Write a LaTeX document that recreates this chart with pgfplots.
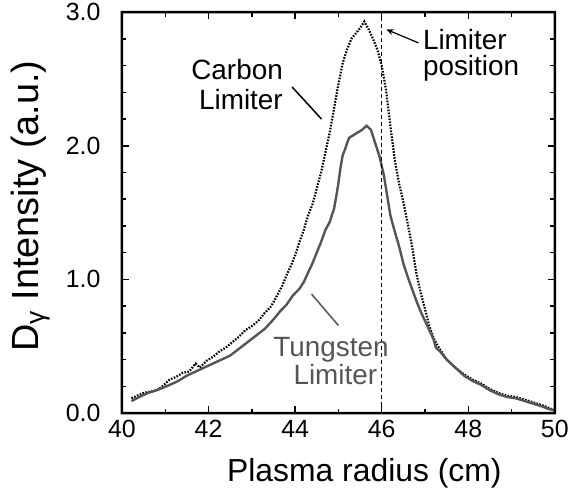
\documentclass[border=0pt]{standalone}
\usepackage{fontspec}
\setmainfont{Liberation Sans}
\usepackage{pgfplots}
\pgfplotsset{compat=1.18}
\usetikzlibrary{arrows.meta}
\definecolor{tung}{RGB}{85,85,85}
\begin{document}
\begin{tikzpicture}
\begin{axis}[
  width=433bp, height=401bp, scale only axis,
  xmin=40, xmax=50, ymin=0, ymax=3,
  xtick={40,42,44,46,48,50},
  xticklabels={40,42,44,46,48,50},
  ytick={0,1,2,3},
  yticklabels={0.0,1.0,2.0,3.0},
  minor x tick num=1,
  minor y tick num=4,
  tick style={draw=none},
  axis line style={draw=none},
  tick label style={font=\fontsize{25}{25}\selectfont},
  yticklabel style={xshift=-18bp},
  xticklabel style={yshift=-4bp},
  xlabel={Plasma radius (cm)},
  xlabel style={at={(axis description cs:0.56,0)}, anchor=base, yshift=-69bp, font=\fontsize{32}{32}\selectfont},
  ylabel={D\textsubscript{γ} Intensity (a.u.)},
  ylabel style={at={(axis description cs:-0.1917,0.516)}, anchor=base, font=\fontsize{38}{38}\selectfont},
]
\addplot[black, line width=2.2bp, dash pattern=on 1.6bp off 1.4bp] coordinates {
(40.22,0.11)(40.35,0.13)(40.5,0.15)(40.65,0.16)(40.8,0.17)(40.9,0.19)
(41.0,0.22)(41.1,0.25)(41.25,0.27)(41.4,0.30)(41.55,0.31)(41.7,0.37)
(41.8,0.34)(41.95,0.39)(42.1,0.42)(42.25,0.46)(42.4,0.49)(42.55,0.53)
(42.7,0.57)(42.85,0.62)(43.0,0.65)(43.15,0.69)(43.3,0.75)(43.45,0.80)
(43.55,0.86)(43.7,0.95)(43.8,1.03)(43.9,1.10)(44.0,1.18)(44.1,1.28)
(44.2,1.37)(44.3,1.48)(44.4,1.56)(44.5,1.68)(44.6,1.80)(44.7,1.95)
(44.8,2.10)(44.9,2.28)(45.0,2.46)(45.1,2.62)(45.2,2.72)(45.3,2.80)
(45.4,2.84)(45.5,2.88)(45.6,2.93)(45.7,2.87)(45.8,2.80)(45.9,2.72)
(46.0,2.60)(46.1,2.42)(46.2,2.15)(46.3,1.90)(46.4,1.72)(46.5,1.58)
(46.6,1.42)(46.7,1.25)(46.8,1.05)(46.9,0.90)(47.0,0.78)(47.1,0.65)
(47.2,0.56)(47.3,0.50)(47.4,0.45)(47.5,0.40)(47.7,0.34)(47.9,0.29)
(48.1,0.25)(48.3,0.22)(48.5,0.18)(48.7,0.15)(48.9,0.13)(49.1,0.12)
(49.3,0.10)(49.5,0.08)(49.7,0.06)(49.85,0.04)(50.0,0.02)
};
\addplot[tung, line width=2.4bp] coordinates {
(40.22,0.09)(40.4,0.12)(40.6,0.15)(40.8,0.17)(40.95,0.19)(41.1,0.21)
(41.3,0.24)(41.5,0.28)(41.7,0.31)(41.9,0.34)(42.1,0.37)(42.3,0.40)
(42.5,0.43)(42.7,0.48)(42.9,0.53)(43.1,0.58)(43.3,0.63)(43.5,0.70)
(43.65,0.76)(43.8,0.81)(43.95,0.88)(44.1,0.93)(44.2,0.98)(44.3,1.05)
(44.4,1.12)(44.5,1.20)(44.6,1.28)(44.7,1.37)(44.8,1.43)(44.9,1.53)
(44.95,1.62)(45.0,1.72)(45.05,1.84)(45.1,1.93)(45.15,1.97)(45.2,2.02)
(45.25,2.06)(45.35,2.08)(45.45,2.10)(45.55,2.12)(45.65,2.15)(45.75,2.12)
(45.85,2.02)(45.95,1.92)(46.05,1.78)(46.1,1.68)(46.2,1.48)(46.3,1.36)
(46.4,1.25)(46.5,1.12)(46.6,1.02)(46.7,0.93)(46.8,0.84)(46.9,0.76)
(47.0,0.69)(47.1,0.62)(47.2,0.55)(47.25,0.49)(47.35,0.46)(47.5,0.40)
(47.7,0.34)(47.9,0.28)(48.1,0.24)(48.3,0.21)(48.5,0.17)(48.7,0.14)
(48.9,0.12)(49.1,0.11)(49.3,0.09)(49.5,0.07)(49.7,0.05)(49.85,0.03)
(50.0,0.02)
};
\addplot[black, line width=1bp, dash pattern=on 4bp off 3bp] coordinates {(46,0)(46,3)};
\node[anchor=base east, font=\fontsize{28}{28}\selectfont, inner sep=0pt] at (axis cs:43.72,2.499) {Carbon};
\node[anchor=base east, font=\fontsize{28}{28}\selectfont, inner sep=0pt] at (axis cs:43.72,2.274) {Limiter};
\draw[black, line width=1.5bp] (axis cs:43.93,2.44) -- (axis cs:44.61,2.20);
\node[anchor=base west, font=\fontsize{28}{28}\selectfont, inner sep=0pt] at (axis cs:46.95,2.723) {Limiter};
\node[anchor=base west, font=\fontsize{28}{28}\selectfont, inner sep=0pt] at (axis cs:46.95,2.529) {position};
\draw[black, line width=1.2bp, -{Stealth[length=7bp,width=6bp]}] (axis cs:46.85,2.77) -- (axis cs:46.11,2.87);
\node[anchor=base, text=tung, font=\fontsize{28}{28}\selectfont, inner sep=0pt] at (axis cs:44.83,0.426) {Tungsten};
\node[anchor=base, text=tung, font=\fontsize{28}{28}\selectfont, inner sep=0pt] at (axis cs:44.93,0.217) {Limiter};
\draw[tung, line width=1.5bp] (axis cs:44.38,0.89) -- (axis cs:45.0,0.655);
\end{axis}
% frame as a filled ring, ticks as filled bars
\fill[black, even odd rule] (-1.25bp,-1.25bp) rectangle (434.25bp,402.25bp)
  (1.25bp,1.25bp) rectangle (431.75bp,399.75bp);
\foreach \i in {0,...,10} {
  \pgfmathsetmacro{\len}{ifthenelse(mod(\i,2)==0,7,4.5)}
  \fill[black] (\i*43.3bp-0.75bp,0) rectangle ++(1.5bp,\len bp);
  \fill[black] (\i*43.3bp-0.75bp,401bp) rectangle ++(1.5bp,-\len bp);
}
\foreach \j in {0,...,15} {
  \pgfmathsetmacro{\len}{ifthenelse(mod(\j,5)==0,7,4.5)}
  \fill[black] (0,\j*26.7333bp-0.75bp) rectangle ++(\len bp,1.5bp);
  \fill[black] (433bp,\j*26.7333bp-0.75bp) rectangle ++(-\len bp,1.5bp);
}
\path (-122bp,-79bp) rectangle (450bp,411bp);
\end{tikzpicture}
\end{document}
